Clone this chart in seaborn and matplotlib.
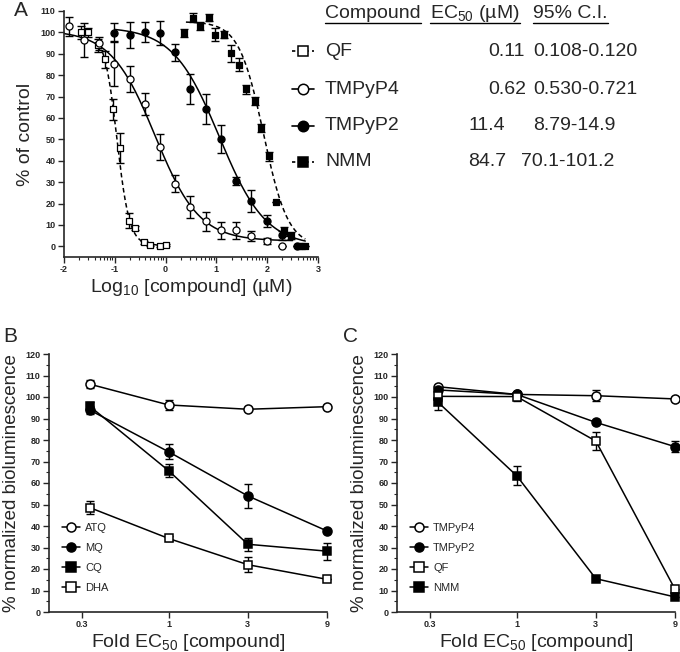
import numpy as np
import matplotlib
matplotlib.use("Agg")
import matplotlib.pyplot as plt
from matplotlib.lines import Line2D
import pandas as pd
import seaborn as sns

sns.set_style("ticks")
plt.rcParams['font.family'] = ['Liberation Sans', 'DejaVu Sans']
plt.rcParams['mathtext.default'] = 'regular'

#panel A - dose response, log10 concentration (uM)
qf_x = [-1.66, -1.53, -1.34, -1.20, -1.03, -0.89, -0.73, -0.60, -0.43, -0.30, -0.12, 0.00]
qf_y = [100, 100, 94, 87.5, 64, 46, 12, 8.5, 1.8, 0.5, 0, 0.8]
qf_err = [3, 2, 3, 4, 5, 7, 3.5, 1, 0.5, 0.5, 0.5, 0.5]

p4_x = [-1.91, -1.61, -1.31, -1.01, -0.71, -0.41, -0.11, 0.19, 0.49, 0.79, 1.09, 1.39, 1.69, 1.99, 2.29]
p4_y = [102.8, 96.6, 95, 85.4, 78.3, 66.5, 46.4, 29.3, 18.4, 11.7, 7.5, 7.5, 4.8, 2.5, 0]
p4_err = [4.5, 8, 3, 10.5, 6, 5, 6, 4, 5, 4.5, 4, 4, 2.5, 1.5, 0]

p2_x = [-1.01, -0.71, -0.41, -0.11, 0.19, 0.49, 0.79, 1.09, 1.39, 1.69, 1.99, 2.29, 2.59]
p2_y = [99.8, 98.9, 100.2, 99.8, 90.8, 73.7, 64.3, 50, 30.5, 21.2, 11.8, 5.1, 0]
p2_err = [4.5, 6, 4.5, 5.5, 4, 7, 7, 6.5, 2, 5, 3, 2, 0]

nmm_x = [0.36, 0.54, 0.67, 0.85, 0.98, 1.15, 1.28, 1.45, 1.58, 1.75, 1.87, 2.04, 2.17, 2.34, 2.47, 2.62, 2.68, 2.75]
nmm_y = [99.8, 106.9, 103, 106.9, 99, 99, 90.3, 84.9, 73.4, 67.9, 55.3, 42, 20.7, 7, 5, 0, 0, 0]
nmm_err = [2, 2, 2, 1.5, 3, 1.5, 4, 3, 2, 2, 2, 2, 0, 2, 1.5, 0, 0, 0]

#fit parameters (top, bottom, EC50 uM, hill, x range of drawn curve)
fit_names = ["QF", "TMPyP4", "TMPyP2", "NMM"]
fit_top = [100, 101, 102.5, 105]
fit_bottom = [0.5, 2.5, 0, 0]
fit_ec50 = [0.11, 0.62, 11.4, 84.7]
fit_hill = [3.5, 1.0, 0.95, 1.8]
fit_range = [(-1.3, 0.0), (-2.0, 2.5), (-1.0, 2.75), (0.4, 2.75)]

#table text
ci_text = ["0.108-0.120", "0.530-0.721", "8.79-14.9", "70.1-101.2"]
ec50_text = ["0.11", "0.62", "11.4", "84.7"]

#panel B/C - fold EC50
fold = [1/3, 1, 3, 9]
fold_ticks = [0.3, 1, 3, 9]
fold_labels = ["0.3", "1", "3", "9"]

b_names = ["ATQ", "MQ", "CQ", "DHA"]
b_y = [[106, 96.3, 94.3, 95.5], [94, 74.5, 54, 37.7], [95.8, 65.7, 31.5, 28.3], [48.6, 34.2, 22, 15.2]]
b_err = [[2, 2.5, 0, 0], [2, 3.5, 5.5, 0], [2, 3, 3, 4], [3, 1, 3.5, 0]]

c_names = ["TMPyP4", "TMPyP2", "QF", "NMM"]
c_y = [[104.8, 101.2, 100.6, 99.1], [103.3, 101.2, 88.2, 76.9], [100.3, 100.2, 79.5, 10.6], [97.8, 63.4, 15.5, 7]]
c_err = [[1, 1, 2.5, 0], [1, 1, 0.5, 2.5], [2, 2, 4, 0], [4, 4.5, 0, 0]]

#marker styles
style = {"QF": ("s", "white"), "TMPyP4": ("o", "white"), "TMPyP2": ("o", "black"), "NMM": ("s", "black"),
         "ATQ": ("o", "white"), "MQ": ("o", "black"), "CQ": ("s", "black"), "DHA": ("s", "white")}

W, H = 680, 652
fig = plt.figure(figsize=(6.8, 6.52), dpi=100)

def px_ax(l, t, r, b):
    return fig.add_axes([l / W, 1 - b / H, (r - l) / W, (b - t) / H])

def bold_ticks(ax):
    for lab in ax.get_xticklabels() + ax.get_yticklabels():
        lab.set_fontweight("bold")
    ax.tick_params(labelsize=6.5, width=1, length=4, direction="out", pad=2)
    for s in ["left", "bottom"]:
        ax.spines[s].set_linewidth(1.2)
    sns.despine(ax=ax)

#---- panel A
axA = px_ax(64, 11, 318, 257)
series_a = [("QF", qf_x, qf_y, qf_err), ("TMPyP4", p4_x, p4_y, p4_err),
            ("TMPyP2", p2_x, p2_y, p2_err), ("NMM", nmm_x, nmm_y, nmm_err)]
for i, name in enumerate(fit_names):
    xs = np.linspace(fit_range[i][0], fit_range[i][1], 200)
    ys = fit_bottom[i] + (fit_top[i] - fit_bottom[i]) / (1 + 10 ** ((xs - np.log10(fit_ec50[i])) * fit_hill[i]))
    if name in ("QF", "NMM"):
        sns.lineplot(x=xs, y=ys, ax=axA, color="black", lw=1.1, dashes=(3, 2), zorder=2)
    else:
        sns.lineplot(x=xs, y=ys, ax=axA, color="black", lw=1.1, zorder=2)
for name, x, y, e in series_a:
    m, fc = style[name]
    axA.errorbar(x, y, yerr=e, fmt="none", ecolor="black", elinewidth=1, capsize=3, capthick=1, zorder=3, clip_on=False)
    sns.scatterplot(x=x, y=y, ax=axA, marker=m, color=fc, edgecolor="black", linewidth=0.9,
                    s=22 if m == "s" else 26, zorder=4, clip_on=False)
axA.set_xlim(-2, 3)
axA.set_ylim(-5, 110)
axA.set_xticks([-2, -1, 0, 1, 2, 3], labels=["-2", "-1", "0", "1", "2", "3"])
axA.set_yticks(range(0, 111, 10))
minor = [n + np.log10(k) for n in range(-2, 3) for k in range(2, 10)]
axA.set_xticks(minor, minor=True)
axA.tick_params(which="minor", length=2.5, width=0.8)
bold_ticks(axA)
axA.set_ylabel("% of control", fontsize=14, labelpad=5)
axA.set_xlabel("Log$_{10}$ [compound] (µM)", fontsize=14, labelpad=2)

#table + legend of panel A
tfs = 14
rows_y = [51, 89, 126, 162]
for i, name in enumerate(fit_names):
    m, fc = style[name]
    yy = 1 - rows_y[i] / H
    if name in ("QF", "NMM"):
        fig.add_artist(Line2D([292 / W, 314 / W], [yy, yy], color="black", lw=1.2, dashes=(2, 2), transform=fig.transFigure))
    else:
        fig.add_artist(Line2D([292 / W, 314 / W], [yy, yy], color="black", lw=1.2, transform=fig.transFigure))
    fig.add_artist(Line2D([303 / W], [yy], marker=m, markersize=7.5, markerfacecolor=fc, markeredgecolor="black",
                          markeredgewidth=1.1, transform=fig.transFigure))
    fig.text(325 / W, yy, name, fontsize=tfs, va="center")
    ec_x = 468 if float(ec50_text[i]) > 10 else 488
    fig.text(ec_x / W, yy, ec50_text[i], fontsize=tfs, va="center")
    ci_x = 521 if name == "NMM" else 533
    fig.text(ci_x / W, yy, ci_text[i], fontsize=tfs, va="center")

hy = 1 - 14 / H
headers = [fig.text(325 / W, hy, "Compound", fontsize=tfs, va="center"),
           fig.text(430 / W, hy, "EC$_{50}$ (µM)", fontsize=tfs, va="center"),
           fig.text(533 / W, hy, "95% C.I.", fontsize=tfs, va="center")]
fig.canvas.draw()
rend = fig.canvas.get_renderer()
for t in headers:
    bb = t.get_window_extent(rend).transformed(fig.transFigure.inverted())
    ul = 1 - 23 / H
    fig.add_artist(Line2D([bb.x0, bb.x1], [ul, ul], color="black", lw=1, transform=fig.transFigure))

#---- panels B and C
def fold_panel(ax, names, ys, errs, leg_anchor):
    handles = []
    for name, y, e in zip(names, ys, errs):
        m, fc = style[name]
        ax.errorbar(fold, y, yerr=e, fmt="none", ecolor="black", elinewidth=1, capsize=3, capthick=1, zorder=3, clip_on=False)
        sns.lineplot(x=fold, y=y, ax=ax, color="black", lw=1.1, marker=m, markersize=6.5 if m == "o" else 6,
                     markerfacecolor=fc, markeredgecolor="black", markeredgewidth=1.1, zorder=4, clip_on=False)
        handles.append(Line2D([], [], color="black", lw=1.1, marker=m, markersize=6.5, markerfacecolor=fc,
                              markeredgecolor="black", markeredgewidth=1.1))
    ax.set_xscale("log")
    ax.set_xlim(0.19, 9)
    ax.set_ylim(0, 120)
    ax.set_xticks(fold_ticks, labels=fold_labels)
    ax.xaxis.set_minor_locator(matplotlib.ticker.NullLocator())
    ax.set_yticks(range(0, 121, 10))
    ax.set_yticks(range(5, 120, 10), minor=True)
    ax.tick_params(axis="y", which="minor", length=2, width=0.8)
    bold_ticks(ax)
    ax.set_ylabel("% normalized bioluminescence", fontsize=13.5, labelpad=4)
    ax.set_xlabel("Fold EC$_{50}$ [compound]", fontsize=14, labelpad=2)
    ax.legend(handles, names, frameon=False, fontsize=8, handlelength=1.6, handletextpad=0.5,
              labelspacing=0.9, loc="lower left", bbox_to_anchor=leg_anchor, borderaxespad=0)

axB = px_ax(49, 354, 327, 612)
fold_panel(axB, b_names, b_y, b_err, (0.03, 0.055))
axC = px_ax(397, 354, 675, 612)
fold_panel(axC, c_names, c_y, c_err, (0.03, 0.055))

fig.text(14 / W, 1 - 10 / H, "A", fontsize=15, va="center")
fig.text(3 / W, 1 - 337 / H, "B", fontsize=15, va="center")
fig.text(343 / W, 1 - 337 / H, "C", fontsize=15, va="center")

fig.savefig("out.png", dpi=100)
